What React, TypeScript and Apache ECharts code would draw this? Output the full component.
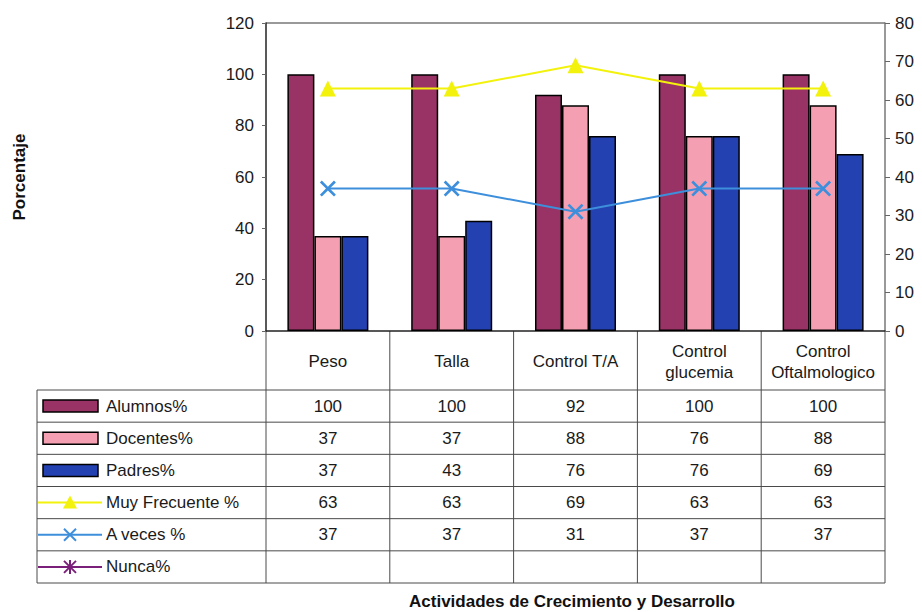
import React, { useEffect, useRef } from "react";
import * as echarts from "echarts";

const categories = ["Peso", "Talla", "Control T/A", "Control glucemia", "Control Oftalmologico"];
const headerLabels = ["Peso", "Talla", "Control T/A", "Control\nglucemia", "Control\nOftalmologico"];
const alumnos = [100, 100, 92, 100, 100];
const docentes = [37, 37, 88, 76, 88];
const padres = [37, 43, 76, 76, 69];
const muyFrecuente = [63, 63, 69, 63, 63];
const aVeces = [37, 37, 31, 37, 37];
const nunca: (number | null)[] = [null, null, null, null, null];

const leftAxis = { min: 0, max: 120, interval: 20 };
const rightAxis = { min: 0, max: 80, interval: 10 };

const xTitle = "Actividades de Crecimiento y Desarrollo";
const yTitle = "Porcentaje";

const COLORS = {
  alumnos: "#993366",
  docentes: "#f5a0b2",
  padres: "#2341b0",
  muy: "#f2f20c",
  aveces: "#3d8fdc",
  nunca: "#7a1f7a",
};

const FONT = "'Liberation Sans', Arial, sans-serif";
const FS = 17;

const X_MARK = "path://M0,1.2L1.2,0L5,3.8L8.8,0L10,1.2L6.2,5L10,8.8L8.8,10L5,6.2L1.2,10L0,8.8L3.8,5Z";

export default function App() {
  const ref = useRef<HTMLDivElement>(null);

  useEffect(() => {
    if (!ref.current) return;
    const chart = echarts.init(ref.current, null, { renderer: "svg" });

    const W = 922;
    const H = 612;
    const gridLeft = 266;
    const gridRight = 37;
    const gridTop = 23;
    const gridBottomY = 331;
    const plotRight = W - gridRight;
    const colW = (plotRight - gridLeft) / categories.length;
    const headerBottom = 390;
    const tableLeft = 37;
    const tableBottom = 583;

    const rows = [
      { name: "Alumnos%", kind: "bar", color: COLORS.alumnos, values: alumnos as (number | null)[] },
      { name: "Docentes%", kind: "bar", color: COLORS.docentes, values: docentes as (number | null)[] },
      { name: "Padres%", kind: "bar", color: COLORS.padres, values: padres as (number | null)[] },
      { name: "Muy Frecuente %", kind: "tri", color: COLORS.muy, values: muyFrecuente as (number | null)[] },
      { name: "A veces %", kind: "x", color: COLORS.aveces, values: aVeces as (number | null)[] },
      { name: "Nunca%", kind: "star", color: COLORS.nunca, values: nunca },
    ];
    const rowH = (tableBottom - headerBottom) / rows.length;

    const lineStyle = { stroke: "#4a4a4a", lineWidth: 1 };
    const g: any[] = [];

    g.push({ type: "line", shape: { x1: gridLeft, y1: gridTop, x2: plotRight, y2: gridTop }, style: { stroke: "#777", lineWidth: 1.5 }, silent: true });

    for (let i = 0; i <= categories.length; i++) {
      const x = gridLeft + i * colW;
      g.push({ type: "line", shape: { x1: x, y1: gridBottomY, x2: x, y2: tableBottom }, style: lineStyle, silent: true });
    }
    g.push({ type: "line", shape: { x1: tableLeft, y1: headerBottom, x2: tableLeft, y2: tableBottom }, style: lineStyle, silent: true });

    for (let r = 0; r <= rows.length; r++) {
      const y = headerBottom + r * rowH;
      g.push({ type: "line", shape: { x1: tableLeft, y1: y, x2: plotRight, y2: y }, style: lineStyle, silent: true });
    }

    headerLabels.forEach((lab, i) => {
      g.push({
        type: "text",
        x: gridLeft + (i + 0.5) * colW,
        y: (gridBottomY + headerBottom) / 2 + 1,
        style: { text: lab, fontSize: FS, fontFamily: FONT, fill: "#1a1a1a", align: "center", verticalAlign: "middle", lineHeight: 21 },
        silent: true,
      });
    });

    rows.forEach((row, r) => {
      const cy = headerBottom + (r + 0.5) * rowH;
      if (row.kind === "bar") {
        g.push({ type: "rect", shape: { x: 43, y: cy - 6, width: 55, height: 12 }, style: { fill: row.color, stroke: "#000", lineWidth: 1.5 }, silent: true });
      } else {
        g.push({ type: "line", shape: { x1: tableLeft + 1, y1: cy, x2: 102, y2: cy }, style: { stroke: row.color, lineWidth: 2 }, silent: true });
        const mx = 70;
        if (row.kind === "tri") {
          g.push({ type: "polygon", shape: { points: [[mx, cy - 7], [mx - 7, cy + 6], [mx + 7, cy + 6]] }, style: { fill: row.color }, silent: true });
        } else if (row.kind === "x") {
          g.push({ type: "line", shape: { x1: mx - 6, y1: cy - 6, x2: mx + 6, y2: cy + 6 }, style: { stroke: row.color, lineWidth: 2 }, silent: true });
          g.push({ type: "line", shape: { x1: mx - 6, y1: cy + 6, x2: mx + 6, y2: cy - 6 }, style: { stroke: row.color, lineWidth: 2 }, silent: true });
        } else {
          g.push({ type: "line", shape: { x1: mx - 6, y1: cy - 6, x2: mx + 6, y2: cy + 6 }, style: { stroke: row.color, lineWidth: 2 }, silent: true });
          g.push({ type: "line", shape: { x1: mx - 6, y1: cy + 6, x2: mx + 6, y2: cy - 6 }, style: { stroke: row.color, lineWidth: 2 }, silent: true });
          g.push({ type: "line", shape: { x1: mx, y1: cy - 7, x2: mx, y2: cy + 7 }, style: { stroke: row.color, lineWidth: 2 }, silent: true });
        }
      }
      g.push({
        type: "text",
        x: 106,
        y: cy,
        style: { text: row.name, fontSize: FS, fontFamily: FONT, fill: "#1a1a1a", align: "left", verticalAlign: "middle" },
        silent: true,
      });
      row.values.forEach((v, i) => {
        if (v === null || v === undefined) return;
        g.push({
          type: "text",
          x: gridLeft + (i + 0.5) * colW,
          y: cy,
          style: { text: String(v), fontSize: FS, fontFamily: FONT, fill: "#1a1a1a", align: "center", verticalAlign: "middle" },
          silent: true,
        });
      });
    });

    g.push({
      type: "text",
      x: 572,
      y: 601,
      style: { text: xTitle, fontSize: 17, fontWeight: "bold", fontFamily: FONT, fill: "#111", align: "center", verticalAlign: "middle" },
      silent: true,
    });

    const barBase = { type: "bar", barWidth: 27, barGap: "0%", yAxisIndex: 0 };

    chart.setOption({
      animation: false,
      backgroundColor: "#ffffff",
      textStyle: { fontFamily: FONT },
      grid: { left: gridLeft, right: gridRight, top: gridTop, bottom: H - gridBottomY, containLabel: false },
      xAxis: {
        type: "category",
        data: categories,
        axisLabel: { show: false },
        axisTick: { show: false },
        axisLine: { show: true, lineStyle: { color: "#222", width: 1.5 } },
      },
      yAxis: [
        {
          type: "value",
          min: leftAxis.min,
          max: leftAxis.max,
          interval: leftAxis.interval,
          position: "left",
          name: yTitle,
          nameLocation: "middle",
          nameRotate: 90,
          nameGap: 238,
          nameTextStyle: { fontSize: 17, fontWeight: "bold", color: "#111", fontFamily: FONT },
          axisLine: { show: true, lineStyle: { color: "#222", width: 1.5 } },
          axisTick: { show: true, length: 4, lineStyle: { color: "#666" } },
          axisLabel: { fontSize: 17, color: "#1a1a1a", margin: 12, fontFamily: FONT },
          splitLine: { show: false },
        },
        {
          type: "value",
          min: rightAxis.min,
          max: rightAxis.max,
          interval: rightAxis.interval,
          position: "right",
          axisLine: { show: true, lineStyle: { color: "#777", width: 1.5 } },
          axisTick: { show: true, length: 5, lineStyle: { color: "#666" } },
          axisLabel: { fontSize: 17, color: "#1a1a1a", margin: 10, fontFamily: FONT },
          splitLine: { show: false },
        },
      ],
      series: [
        { ...barBase, name: "Alumnos%", data: alumnos, itemStyle: { color: COLORS.alumnos, borderColor: "#000", borderWidth: 1.5 } },
        { ...barBase, name: "Docentes%", data: docentes, itemStyle: { color: COLORS.docentes, borderColor: "#000", borderWidth: 1.5 } },
        { ...barBase, name: "Padres%", data: padres, itemStyle: { color: COLORS.padres, borderColor: "#000", borderWidth: 1.5 } },
        {
          type: "line",
          name: "Muy Frecuente %",
          yAxisIndex: 1,
          data: muyFrecuente,
          symbol: "triangle",
          symbolSize: 16,
          lineStyle: { color: COLORS.muy, width: 2 },
          itemStyle: { color: COLORS.muy },
          z: 5,
        },
        {
          type: "line",
          name: "A veces %",
          yAxisIndex: 1,
          data: aVeces,
          symbol: X_MARK,
          symbolSize: 16,
          lineStyle: { color: COLORS.aveces, width: 2 },
          itemStyle: { color: COLORS.aveces },
          z: 5,
        },
        {
          type: "line",
          name: "Nunca%",
          yAxisIndex: 1,
          data: nunca,
          symbol: "circle",
          lineStyle: { color: COLORS.nunca, width: 2 },
          itemStyle: { color: COLORS.nunca },
          z: 5,
        },
      ],
      graphic: g,
    });

    return () => chart.dispose();
  }, []);

  return <div ref={ref} style={{ position: "absolute", left: 0, top: 0, width: 922, height: 612 }} />;
}
